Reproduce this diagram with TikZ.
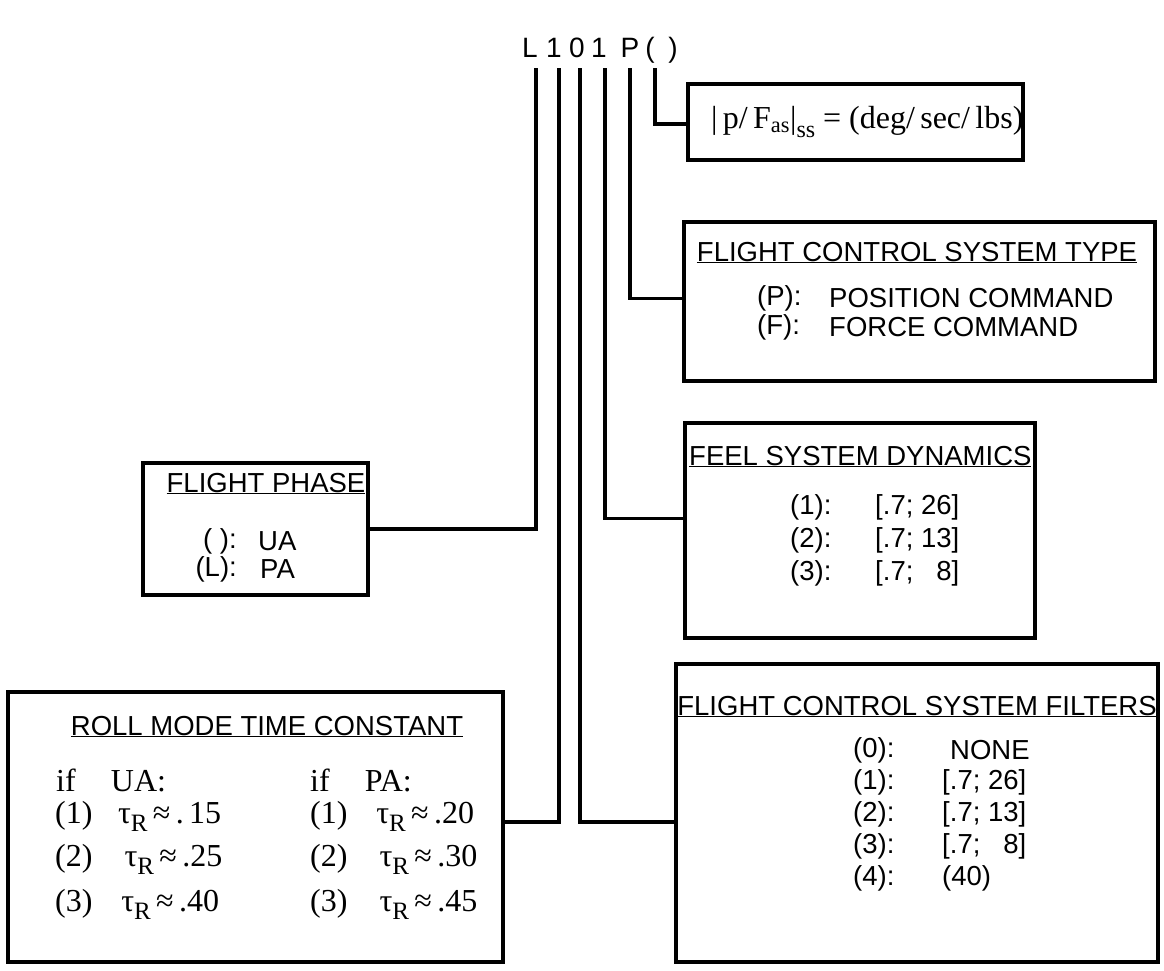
\documentclass[tikz,border=0pt]{standalone}
\usepackage{fontspec}
\setmainfont{Liberation Sans}
\newfontfamily\timesrm{Liberation Serif}
\usetikzlibrary{positioning}

\newcommand\tauR{τ\raisebox{-0.55ex}{\fontsize{25}{25}\selectfont R}}

\tikzset{
  box/.style={draw, line width=4pt, inner sep=0pt},
  link/.style={line width=3.5pt},
  code/.style={font=\fontsize{28}{30}\selectfont, inner sep=0pt, anchor=base, text depth=0pt},
  head/.style={font=\fontsize{27.5}{30}\selectfont, inner sep=0pt, anchor=base},
  item/.style={font=\fontsize{27.5}{30}\selectfont, inner sep=0pt, anchor=west},
  serif/.style={font=\timesrm\fontsize{32}{34}\selectfont, inner sep=0pt, anchor=west},
}

\begin{document}
\begin{tikzpicture}[x=1pt, y=-1pt]
\useasboundingbox (0,0) rectangle (1164,971);

% designation string
\foreach \n/\c/\x in {cL/L/530, cOne/1/554, cZero/0/577, cOneB/1/599, cP/P/630, cOpen/{(}/650, cClose/{)}/673}
  \node[code] (\n) at (\x,58) {\c};

% boxes
\node[box, minimum width=335pt, minimum height=76pt] (pf) at (855.5,122) {};
\node[box, minimum width=471pt, minimum height=159pt] (fcs) at (919.5,301.5) {};
\node[box, minimum width=350pt, minimum height=215pt] (feel) at (860,530.5) {};
\node[box, minimum width=482pt, minimum height=298pt] (filt) at (917,813) {};
\node[box, minimum width=225pt, minimum height=132pt] (phase) at (255.5,529) {};
\node[box, minimum width=495pt, minimum height=270pt] (roll) at (255.5,827) {};

% gain box
\node[serif] (pfText) at (711,122)
  {|\,p/\,F\textsubscript{as}|\raisebox{-0.6ex}{\fontsize{24}{24}\selectfont ss} = (deg/\,sec/\,lbs)};

% flight control system type
\node[head] (fcsHead) at (917,261) {\underline{FLIGHT CONTROL SYSTEM TYPE}};
\node[item] (fcsP) at (757,298) {(P):};
\node[item] (fcsPv) at (829,298) {POSITION COMMAND};
\node[item] (fcsF) at (757,327) {(F):};
\node[item] (fcsFv) at (829,327) {FORCE COMMAND};

% feel system
\node[head, anchor=base west] (feelHead) at (689,465) {\underline{FEEL SYSTEM DYNAMICS}};
\foreach \k/\v [count=\i] in {1/{[.7; 26]}, 2/{[.7; 13]}, 3/{[.7; \phantom{2}8]}} {
  \node[item] (feelN\k) at (790,474+33*\i) {(\k):};
  \node[item] (feelV\k) at (875,474+33*\i) {\v};
}

% filters
\node[head] (filtHead) at (917,715) {\underline{FLIGHT CONTROL SYSTEM FILTERS}};
\foreach \k/\v/\x in {0/NONE/950, 1/{[.7; 26]}/942, 2/{[.7; 13]}/942, 3/{[.7; \phantom{2}8]}/942, 4/{(40)}/942} {
  \node[item] (filtN\k) at (853,750+32*\k) {(\k):};
  \node[item] (filtV\k) at (\x,750+32*\k) {\v};
}

% flight phase
\node[head] (phaseHead) at (266,492) {\underline{FLIGHT PHASE}};
\node[item, anchor=east] (phaseU) at (237,541) {( ):};
\node[item] (phaseUv) at (258,541) {UA};
\node[item, anchor=east] (phaseL) at (237,569) {(L):};
\node[item] (phaseLv) at (260,569) {PA};

% roll mode
\node[head] (rollHead) at (267,735) {\underline{ROLL MODE TIME CONSTANT}};
\node[serif] (rollUA) at (56,780) {if\hspace{1.1em}UA:};
\node[serif] (rollPA) at (310,780) {if\hspace{1.1em}PA:};
\node[serif] (rollU1) at (55,816) {(1)\hspace{0.8em}\tauR\,≈\,.\,15};
\node[serif] (rollU2) at (55,859) {(2)\hspace{1em}\tauR\,≈\,.25};
\node[serif] (rollU3) at (55,904) {(3)\hspace{0.9em}\tauR\,≈\,.40};
\node[serif] (rollP1) at (310,816) {(1)\hspace{0.9em}\tauR\,≈\,.20};
\node[serif] (rollP2) at (310,859) {(2)\hspace{1em}\tauR\,≈\,.30};
\node[serif] (rollP3) at (310,904) {(3)\hspace{1em}\tauR\,≈\,.45};

% connectors
\draw[link] ([xshift=6pt]cL.south) ++(0,10) |- (phase.east);
\draw[link] ([xshift=5pt]cOne.south) ++(0,10) |- ([yshift=5pt]roll.east);
\draw[link] ([xshift=3pt]cZero.south) ++(0,10) |- ([yshift=-9pt]filt.west);
\draw[link] ([xshift=6pt]cOneB.south) ++(0,10) |- ([yshift=12pt]feel.west);
\draw[link] (cP.south) ++(0,10) |- ([yshift=3pt]fcs.west);
\draw[link] ([xshift=5pt]cOpen.south) ++(0,10) |- ([yshift=-2pt]pf.west);
\end{tikzpicture}
\end{document}
